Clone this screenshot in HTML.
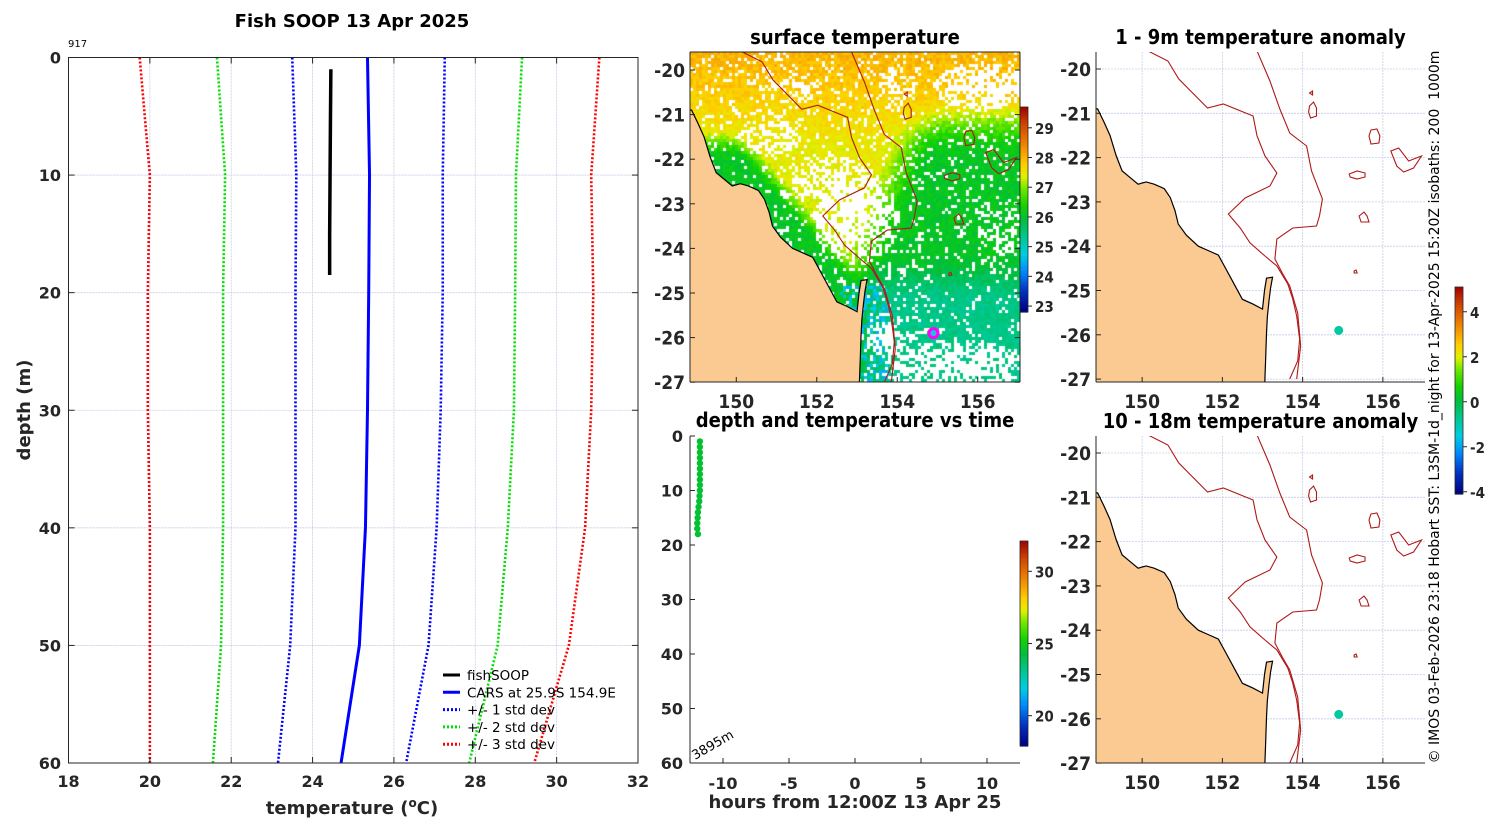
<!DOCTYPE html>
<html><head><meta charset="utf-8"><style>
html,body{margin:0;padding:0;background:#fff;}
#wrap{position:relative;width:1500px;height:820px;overflow:hidden;background:#fff;}
#sst{position:absolute;left:690px;top:52px;}
svg{position:absolute;left:0;top:0;}
.tk{font-family:"DejaVu Sans","Liberation Sans",sans-serif;font-weight:bold;font-size:16px;fill:#262626;}
.mt{font-family:"DejaVu Sans Condensed","DejaVu Sans","Liberation Sans",sans-serif;font-weight:bold;font-size:19px;fill:#262626;}
.cb{font-family:"DejaVu Sans Condensed","DejaVu Sans","Liberation Sans",sans-serif;font-weight:bold;font-size:15px;fill:#262626;}
.ttl{font-family:"DejaVu Sans Condensed","DejaVu Sans","Liberation Sans",sans-serif;font-weight:bold;font-size:20px;fill:#000;}
.lg{font-family:"DejaVu Sans","Liberation Sans",sans-serif;font-size:13.5px;fill:#000;}
</style></head><body>
<div id="wrap">
<canvas id="sst" width="330" height="330"></canvas>
<svg id="fig" width="1500" height="820" xmlns="http://www.w3.org/2000/svg"></svg>
</div>
<script>
// ---------- profile data ----------
const depths = [0,10,20,30,40,50,60];
const carsMean = [25.35,25.4,25.38,25.35,25.3,25.15,24.7];
const sdMinus1 = [23.5,23.6,23.58,23.58,23.58,23.45,23.15];
const sdPlus1  = [27.25,27.2,27.2,27.15,27.05,26.85,26.3];
const sdMinus2 = [21.65,21.85,21.8,21.8,21.8,21.75,21.55];
const sdPlus2  = [29.15,29.0,28.98,28.95,28.8,28.55,27.85];
const sdMinus3 = [19.75,20.0,19.95,19.95,20.0,20.0,20.0];
const sdPlus3  = [31.05,30.85,30.9,30.85,30.7,30.3,29.45];
const soopDepth = [1,5,10,15,18.5];
const soopTemp = [24.45,24.44,24.43,24.42,24.42];
const tempTicks = [18,20,22,24,26,28,30,32];
const depthTicks = [0,10,20,30,40,50,60];
// ---------- time plot data ----------
const timeHours = [-11.75,-11.75,-11.75,-11.75,-11.75,-11.75,-11.75,-11.75,-11.75,-11.75,-11.78,-11.8,-11.85,-11.9,-11.92,-11.95,-11.95,-11.9];
const timeDepth = [1,2,3,4,5,6,7,8,9,10,11,12,13,14,15,16,17,18];
const timeTemp = [24.5,24.5,24.5,24.5,24.5,24.5,24.5,24.5,24.45,24.45,24.45,24.45,24.45,24.42,24.42,24.42,24.42,24.42];
const hourTicks = [-10,-5,0,5,10];
const tdTicks = [0,10,20,30,40,50,60];
// ---------- map data ----------
const lonTicks = [150,152,154,156];
const latTicks = [-20,-21,-22,-23,-24,-25,-26,-27];
const stationLon = [154.9];
const stationLat = [-25.9];
const stationAnom1 = [-0.9];
const stationAnom2 = [-0.9];
const sstCbTicks = [23,24,25,26,27,28,29];
const anomCbTicks = [-4,-2,0,2,4];
const timeCbTicks = [20,25,30];

const NS='http://www.w3.org/2000/svg';
const svg=document.getElementById('fig');
function mk(tag,attrs,parent){const e=document.createElementNS(NS,tag);for(const k in attrs)e.setAttribute(k,attrs[k]);(parent||svg).appendChild(e);return e;}
function txt(x,y,s,cls,anchor,parent,extra){const e=mk('text',Object.assign({x:x,y:y,class:cls,'text-anchor':anchor||'middle'},extra||{}),parent);e.textContent=s;return e;}
const CM=[[0,0,0,128],[0.1,0,48,192],[0.2,0,140,255],[0.28,0,205,225],[0.36,0,200,150],[0.45,0,190,60],[0.52,20,210,0],[0.6,110,232,0],[0.66,225,240,0],[0.72,255,205,0],[0.82,240,128,0],[0.92,205,64,0],[1,160,0,0]];
function jetArr(t){t=Math.max(0,Math.min(1,t));for(let i=1;i<CM.length;i++){if(t<=CM[i][0]){const a=CM[i-1],b=CM[i],f=(t-a[0])/(b[0]-a[0]);return [a[1]+(b[1]-a[1])*f,a[2]+(b[2]-a[2])*f,a[3]+(b[3]-a[3])*f];}}return [160,0,0];}
function jet(t){const c=jetArr(t);return 'rgb('+Math.round(c[0])+','+Math.round(c[1])+','+Math.round(c[2])+')';}

// ======== Profile plot ========
const P={x0:68.5,x1:638,y0:57.5,y1:763};
const px=t=>P.x0+(t-18)/(32-18)*(P.x1-P.x0);
const py=d=>P.y0+d/60*(P.y1-P.y0);
const gProf=mk('g',{});


tempTicks.forEach(t=>{const l=mk('line',{x1:px(t),x2:px(t),y1:P.y0,y2:P.y1,stroke:'#c8cce8','stroke-width':0.8,'stroke-dasharray':'2,1'},gProf);});
depthTicks.forEach(d=>{const l=mk('line',{x1:P.x0,x2:P.x1,y1:py(d),y2:py(d),stroke:'#c8cce8','stroke-width':0.8,'stroke-dasharray':'2,1'},gProf);});
function profLine(arr,color,dash,w,name){const pts=arr.map((t,i)=>px(t)+','+py(depths[i])).join(' ');const l=mk('polyline',{points:pts,fill:'none',stroke:color,'stroke-width':w,'stroke-dasharray':dash||'none'},gProf);}
profLine(sdMinus3,'#ff0000','2,2',2.6,'minus-3-std-line');
profLine(sdPlus3,'#ff0000','2,2',2.6,'plus-3-std-line');
profLine(sdMinus2,'#00e000','2,2',2.6,'minus-2-std-line');
profLine(sdPlus2,'#00e000','2,2',2.6,'plus-2-std-line');
profLine(sdMinus1,'#0000ff','2,2',2.6,'minus-1-std-line');
profLine(sdPlus1,'#0000ff','2,2',2.6,'plus-1-std-line');
profLine(carsMean,'#0000ff',null,3,'cars-mean-line');
{const pts=soopTemp.map((t,i)=>px(t)+','+py(soopDepth[i])).join(' ');const l=mk('polyline',{points:pts,fill:'none',stroke:'#000','stroke-width':3.5},gProf);}
{const r=mk('rect',{x:P.x0,y:P.y0,width:P.x1-P.x0,height:P.y1-P.y0,fill:'none',stroke:'#262626','stroke-width':1},gProf);}
tempTicks.forEach(t=>{mk('line',{x1:px(t),x2:px(t),y1:P.y1,y2:P.y1-6,stroke:'#262626'},gProf);mk('line',{x1:px(t),x2:px(t),y1:P.y0,y2:P.y0+6,stroke:'#262626'},gProf);const e=txt(px(t),787,String(t),'tk','middle',gProf);});
depthTicks.forEach(d=>{mk('line',{x1:P.x0,x2:P.x0+6,y1:py(d),y2:py(d),stroke:'#262626'},gProf);mk('line',{x1:P.x1,x2:P.x1-6,y1:py(d),y2:py(d),stroke:'#262626'},gProf);const e=txt(61,py(d)+6,String(d),'tk','end',gProf);});
{const e=txt(352,27,'Fish SOOP 13 Apr 2025','tk','middle',gProf,{style:'font-size:18px;fill:#000'});}
{const e=txt(68,47,'917','lg','start',gProf,{style:'font-size:10px'});}
{const e=mk('text',{x:352,y:814,class:'tk','text-anchor':'middle',style:'font-size:18px'},gProf);e.innerHTML='temperature (<tspan dy="-7" style="font-size:12px">o</tspan><tspan dy="7">C)</tspan>';}
{const e=txt(0,0,'depth (m)','tk','middle',gProf,{transform:'translate(30,410) rotate(-90)',style:'font-size:18px'});}
const legItems=[['fishSOOP','#000',null],['CARS at 25.9S 154.9E','#0000ff',null],['+/- 1 std dev','#0000ff','2,2'],['+/- 2 std dev','#00e000','2,2'],['+/- 3 std dev','#ff0000','2,2']];
const gLeg=mk('g',{},gProf);
legItems.forEach((it,i)=>{const y=675+i*17.3;const g=mk('g',{},gLeg);mk('line',{x1:443,x2:460,y1:y,y2:y,stroke:it[1],'stroke-width':3,'stroke-dasharray':it[2]||'none'},g);txt(467,y+5,it[0],'lg','start',g);});

// ======== Map helpers ========
const coast=[[148.89,-20.9],[149.05,-21.2],[149.2,-21.5],[149.35,-21.95],[149.5,-22.3],[149.7,-22.45],[149.9,-22.6],[150.1,-22.55],[150.3,-22.6],[150.55,-22.7],[150.7,-22.9],[150.82,-23.2],[150.9,-23.5],[151.1,-23.75],[151.4,-24.0],[151.65,-24.1],[151.9,-24.2],[152.05,-24.45],[152.2,-24.7],[152.35,-24.95],[152.5,-25.2],[152.75,-25.3],[153.0,-25.42],[153.05,-25.0],[153.1,-24.72],[153.25,-24.7],[153.2,-24.95],[153.16,-25.25],[153.12,-25.6],[153.1,-25.96],[153.08,-26.5],[153.06,-27.0],[153.06,-27.1],[148.8,-27.1],[148.8,-20.9]];
function isoPix(pts){return pts.map(p=>[150+(p[0]-1141)/40.5,-20-(p[1]-453)/44.3]);}
const iso200=isoPix([[1147,435],[1167,445],[1178,463],[1195,480],[1207,492],[1223,488],[1253,500],[1257,520],[1265,540],[1277,557],[1270,570],[1245,582],[1228,598],[1240,612],[1250,627],[1265,640],[1277,650],[1288,668],[1293,683],[1297,700],[1300,723],[1298,745],[1290,763]]);
const iso1000=isoPix([[1257,435],[1270,465],[1280,493],[1290,517],[1307,530],[1312,555],[1323,583],[1320,600],[1317,610],[1293,612],[1277,623],[1275,643],[1283,658],[1290,670],[1298,697],[1301,730],[1297,763]]);
const isoIsl=[[[1310,490],[1314,486],[1317,492],[1317,500],[1311,502],[1309,496]],[[1372,514],[1378,513],[1381,520],[1380,527],[1372,528],[1370,520]],[[1350,558],[1358,555],[1366,557],[1366,561],[1358,563],[1351,561]],[[1392,535],[1400,532],[1410,545],[1423,540],[1415,552],[1405,556],[1398,550]],[[1360,600],[1365,596],[1368,600],[1370,606],[1362,606]],[[1310,477],[1313,475],[1313,479]],[[1355,655],[1357,654],[1358,657],[1355,657]]].map(isoPix);
function makeMap(o){
  const g=mk('g',{});
  const X=lon=>o.x0+(lon-148.85)/(157.05-148.85)*(o.x1-o.x0);
  const Y=lat=>o.ylat20+(-20-lat)*o.pdeg;
  const cid='clip'+o.name;
  const cp=mk('clipPath',{id:cid},g);mk('rect',{x:o.x0,y:o.y0,width:o.x1-o.x0,height:o.y1-o.y0},cp);
  const inner=mk('g',{'clip-path':'url(#'+cid+')'},g);
  if(o.grid){lonTicks.forEach(l=>{const e=mk('line',{x1:X(l),x2:X(l),y1:o.y0,y2:o.y1,stroke:'#c8cce8','stroke-width':0.8,'stroke-dasharray':'2,1'},inner);});
   latTicks.forEach(l=>{const e=mk('line',{x1:o.x0,x2:o.x1,y1:Y(l),y2:Y(l),stroke:'#c8cce8','stroke-width':0.8,'stroke-dasharray':'2,1'},inner);});}
  const land=mk('polygon',{points:coast.map(p=>X(p[0])+','+Y(p[1])).join(' '),fill:'#fbc992',stroke:'#000','stroke-width':1.2},inner);
  [iso200,iso1000].forEach((l,i)=>{const e=mk('polyline',{points:l.map(p=>X(p[0])+','+Y(p[1])).join(' '),fill:'none',stroke:'#b01818','stroke-width':1.1},inner);});
  isoIsl.forEach(l=>{const e=mk('polygon',{points:l.map(p=>X(p[0])+','+Y(p[1])).join(' '),fill:'none',stroke:'#b01818','stroke-width':1.1},inner);});
  if(o.anom){const e=mk('circle',{cx:X(stationLon[0]),cy:Y(stationLat[0]),r:4.5,fill:jet((o.anom[0]+4.1)/9.2)},inner);}
  if(o.marker){const e=mk('circle',{cx:X(stationLon[0]),cy:Y(stationLat[0]),r:4.5,fill:'#20c0e0',stroke:'#ff00ff','stroke-width':3},inner);}
  mk('line',{x1:o.x0,x2:o.x0,y1:o.y0,y2:o.y1,stroke:'#262626'},g);
  mk('line',{x1:o.x0,x2:o.x1,y1:o.y1,y2:o.y1,stroke:'#262626'},g);
  if(o.box){mk('line',{x1:o.x0,x2:o.x1,y1:o.y0,y2:o.y0,stroke:'#262626'},g);mk('line',{x1:o.x1,x2:o.x1,y1:o.y0,y2:o.y1,stroke:'#262626'},g);}
  lonTicks.forEach(l=>{mk('line',{x1:X(l),x2:X(l),y1:o.y1,y2:o.y1-5,stroke:'#262626'},g);const e=txt(X(l),o.y1+26,String(l),'mt','middle',g);});
  latTicks.forEach(l=>{mk('line',{x1:o.x0,x2:o.x0+5,y1:Y(l),y2:Y(l),stroke:'#262626'},g);if(o.box)mk('line',{x1:o.x1,x2:o.x1-5,y1:Y(l),y2:Y(l),stroke:'#262626'},g);const e=txt(o.x0-5,Y(l)+7,String(l),'mt','end',g);});
  const t=txt((o.x0+o.x1)/2,o.y0-8,o.title,'ttl','middle',g);
  return {X,Y};
}

// ======== SST texture (canvas) ========
(function(){
  const c=document.getElementById('sst').getContext('2d');
  const W=330,H=330;
  let s=12345;const rnd=()=>{s=(s*1103515245+12345)&0x7fffffff;return s/0x7fffffff;};
  const img=c.createImageData(W,H);
  const cell=3;
  const blobs=[[0.5,0.5,0.13,0.14,0.9],[0.42,0.38,0.12,0.08,0.7],[0.88,0.1,0.14,0.07,0.9],[0.8,0.95,0.22,0.08,0.85],[0.6,0.86,0.07,0.06,0.7],[0.25,0.25,0.1,0.07,0.55],[0.3,0.1,0.1,0.05,0.5],[0.62,0.1,0.06,0.06,0.6],[0.93,0.55,0.07,0.12,0.4]];
  const sm=(a,b,x)=>{const t=Math.max(0,Math.min(1,(x-a)/(b-a)));return t*t*(3-2*t);};
  for(let cy=0;cy<H;cy+=cell){for(let cx=0;cx<W;cx+=cell){
    const u=cx/W,v=cy/H;
    let T=v<0.3?28.0-v*2:27.45-(v-0.3)*0.5;
    const eb=0.62+(0.3-v)*0.4;
    const east=sm(eb-0.05,eb+0.12,u)*sm(0.12,0.32,v);
    T=T*(1-east)+26.1*east;
    const coastU=(v-0.25)*0.85+0.04;
    if(v>0.22){const k=sm(coastU+0.14,coastU+0.05,u)*sm(0.22,0.32,v);T=T*(1-k)+26.1*k;}
    const kS=sm(0.6,0.75,v)*sm(0.45,0.6,u);T=T*(1-kS)+25.4*kS;
    if(v>0.7&&u>0.45&&u<0.6&&rnd()<0.4)T=24.6;
    T+=(rnd()-0.5)*0.35;
    let pw=0.12;
    blobs.forEach(b=>{const d=((u-b[0])/b[2])**2+((v-b[1])/b[3])**2;if(d<1)pw=Math.max(pw,b[4]*(1-d*0.4));});
    let col=[255,255,255];
    if(rnd()>pw)col=jetArr((T-22.8)/6.9);
    for(let yy=0;yy<cell;yy++)for(let xx=0;xx<cell;xx++){const X=cx+xx,Y=cy+yy;if(X>=W||Y>=H)continue;const i=(Y*W+X)*4;img.data[i]=col[0];img.data[i+1]=col[1];img.data[i+2]=col[2];img.data[i+3]=255;}
  }}
  c.putImageData(img,0,0);
})();

makeMap({name:'surface-temperature-map',x0:690,x1:1020,y0:52,y1:382,ylat20:70,pdeg:44.6,title:'surface temperature',grid:false,box:true,marker:true});
makeMap({name:'anomaly-1-9m-map',x0:1096,x1:1425,y0:52,y1:382,ylat20:69,pdeg:44.3,title:'1 - 9m temperature anomaly',grid:true,box:false,anom:stationAnom1});
makeMap({name:'anomaly-10-18m-map',x0:1096,x1:1425,y0:436,y1:763,ylat20:453,pdeg:44.3,title:'10 - 18m temperature anomaly',grid:true,box:false,anom:stationAnom2});

// ======== colorbars ========
function colorbar(name,x,y0,y1,vmin,vmax,ticks){
  const g=mk('g',{});
  const n=80,h=(y1-y0)/n;
  for(let i=0;i<n;i++){mk('rect',{x:x,y:y0+i*h,width:8,height:h+0.6,fill:jet(1-(i+0.5)/n)},g);}
  mk('rect',{x:x,y:y0,width:8,height:y1-y0,fill:'none',stroke:'#262626','stroke-width':0.8},g);
  const Yv=v=>y1-(v-vmin)/(vmax-vmin)*(y1-y0);
  ticks.forEach(t=>{mk('line',{x1:x+8,x2:x+12,y1:Yv(t),y2:Yv(t),stroke:'#262626'},g);const e=txt(x+15,Yv(t)+6,String(t),'cb','start',g);});
}
colorbar('sst-colorbar',1020,107,312,22.8,29.7,sstCbTicks);
colorbar('anomaly-colorbar',1455,287,494,-4.1,5.1,anomCbTicks);
colorbar('time-colorbar',1020,541,746,17.9,32.1,timeCbTicks);

// ======== time plot ========
const TP={x0:690,x1:1020,y0:436,y1:763};
const tx=h=>TP.x0+(h+12.5)/25*(TP.x1-TP.x0);
const ty=d=>TP.y0+d/60*(TP.y1-TP.y0);
const gT=mk('g',{});
mk('line',{x1:TP.x0,x2:TP.x0,y1:TP.y0,y2:TP.y1,stroke:'#262626'},gT);
mk('line',{x1:TP.x0,x2:TP.x1,y1:TP.y1,y2:TP.y1,stroke:'#262626'},gT);
hourTicks.forEach(h=>{mk('line',{x1:tx(h),x2:tx(h),y1:TP.y1,y2:TP.y1-5,stroke:'#262626'},gT);const e=txt(tx(h),TP.y1+26,String(h),'tk','middle',gT);});
tdTicks.forEach(d=>{mk('line',{x1:TP.x0,x2:TP.x0+5,y1:ty(d),y2:ty(d),stroke:'#262626'},gT);const e=txt(TP.x0-7,ty(d)+6,String(d),'tk','end',gT);});
timeHours.forEach((h,i)=>{const e=mk('circle',{cx:tx(h),cy:ty(timeDepth[i]),r:3.2,fill:jet((timeTemp[i]-17.9)/14.2)},gT);});
{const e=txt(855,427,'depth and temperature vs time','ttl','middle',gT);}
{const e=txt(855,808,'hours from 12:00Z 13 Apr 25','tk','middle',gT,{style:'font-size:18px'});}
{const e=txt(0,0,'3895m','lg','start',gT,{transform:'translate(695,760) rotate(-30)',style:'font-size:13px'});}

{const e=txt(0,0,'© IMOS 03-Feb-2026 23:18 Hobart SST: L3SM-1d_night for 13-Apr-2025 15:20Z isobaths: 200  1000m','lg','middle',svg,{transform:'translate(1439,407) rotate(-90)',style:'font-size:14px;white-space:pre'});}
</script>
</body></html>
